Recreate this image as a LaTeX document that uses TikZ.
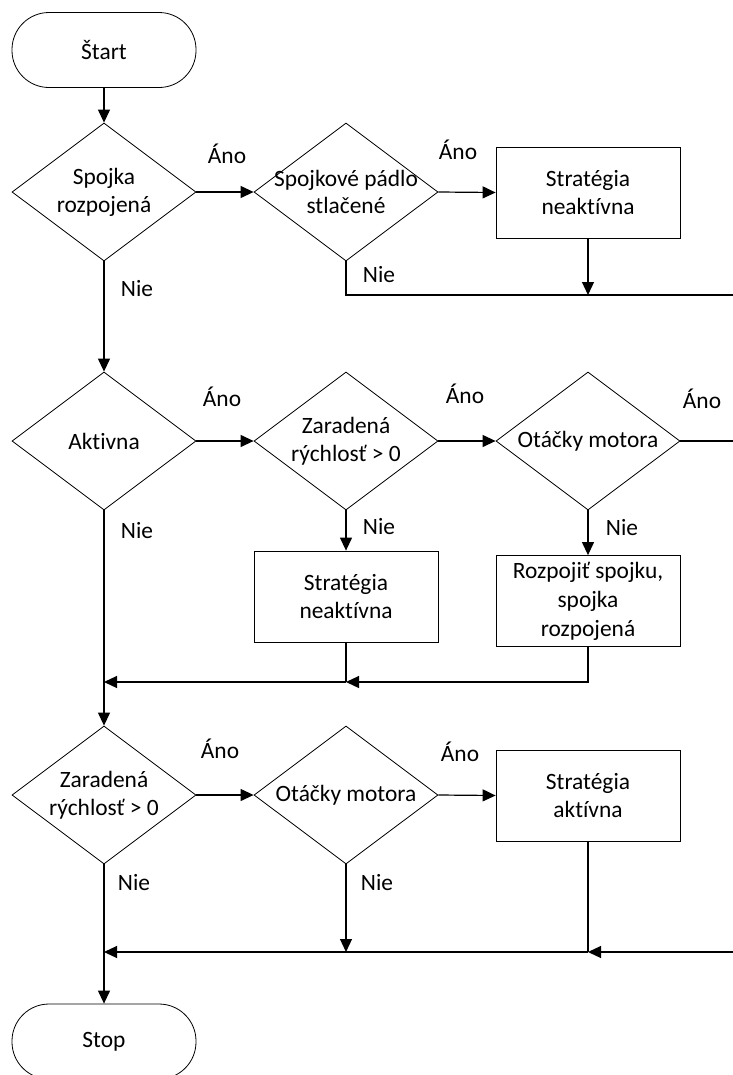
\documentclass[tikz,border=0pt]{standalone}
\usepackage{fontspec}
\setmainfont[Ligatures=NoCommon]{Carlito}
\usetikzlibrary{arrows.meta,shapes.geometric}
\tikzset{
  dec/.style={draw, shape=diamond, minimum width=184bp, minimum height=138bp, inner sep=0pt, line width=0.8bp},
  proc/.style={draw, rectangle, minimum width=184bp, minimum height=91bp, inner sep=0pt, line width=0.8bp, align=center, font=\fontsize{23.5}{29}\selectfont},
  term/.style={draw, rectangle, rounded corners=37bp, minimum width=184bp, minimum height=75bp, inner sep=0pt, line width=0.8bp, font=\fontsize{23.5}{29}\selectfont},
  txt/.style={align=center, inner sep=0pt, font=\fontsize{23.5}{28}\selectfont},
  lbl/.style={inner sep=0pt, font=\fontsize{23.5}{28}\selectfont},
  conn/.style={line width=1.2bp},
  arr/.style={conn, -{Triangle[length=13bp,width=12bp]}}
}
\begin{document}
\begin{tikzpicture}[x=1bp,y=-1bp]
\useasboundingbox (0,0) rectangle (733,1075);
\clip (0,0) rectangle (733,1075);
% row 1
\node[term] (start) at (104,50) {Štart};
\node[dec] (d1) at (104,192) {};
\node[txt] (d1t) at (d1) {Spojka\\rozpojená};
\node[dec] (d2) at (346,192) {};
\node[txt] (d2t) at (d2) {Spojkové pádlo\\stlačené};
\node[proc] (b1) at (588,192.5) {Stratégia\\neaktívna};
\coordinate (j1) at (588,295);
\coordinate (k1) at (346,295);
\coordinate (r1) at (733,295);
% row 2
\node[dec] (d4) at (104,441) {};
\node[txt] (d4t) at (d4) {Aktivna};
\node[dec] (d5) at (346,441) {};
\node[txt] (d5t) at (d5) {Zaradená\\rýchlosť > 0};
\node[dec] (d6) at (588,441) {};
\node[txt] (d6t) at (d6) {Otáčky motora};
\coordinate (r2) at (733,441);
\node[proc] (b2) at (346,596.5) {Stratégia\\neaktívna};
\node[proc] (b3) at (588,601) {Rozpojiť spojku,\\spojka\\rozpojená};
\coordinate (j2) at (588,682);
\coordinate (k2) at (346,682);
\coordinate (m2) at (104,682);
% row 3
\node[dec] (d7) at (104,795) {};
\node[txt] (d7t) at (d7) {Zaradená\\rýchlosť > 0};
\node[dec] (d8) at (346,795) {};
\node[txt] (d8t) at (d8) {Otáčky motora};
\node[proc] (b4) at (588,795.5) {Stratégia\\aktívna};
\coordinate (j3) at (588,952);
\coordinate (k3) at (346,952);
\coordinate (m3) at (104,952);
\coordinate (r3) at (733,952);
\node[term] (stop) at (104,1041.5) {Stop};
% labels
\node[lbl] (a1) at (227,154) {Áno};
\node[lbl] (a2) at (458,150) {Áno};
\node[lbl] (n1) at (137,289) {Nie};
\node[lbl] (n2) at (379,275) {Nie};
\node[lbl] (a4) at (222,397) {Áno};
\node[lbl] (a5) at (465,394) {Áno};
\node[lbl] (a6) at (702,399) {Áno};
\node[lbl] (n4) at (137,531) {Nie};
\node[lbl] (n5) at (379,527) {Nie};
\node[lbl] (n6) at (622,528) {Nie};
\node[lbl] (a7) at (220,749) {Áno};
\node[lbl] (a8) at (460,752) {Áno};
\node[lbl] (n7) at (134,883) {Nie};
\node[lbl] (n8) at (377,883) {Nie};
% connectors row 1
\draw[arr] (start.south) -- (d1.north);
\draw[arr] (d1.east) -- (d2.west);
\draw[arr] (d2.east) -- (b1.west);
\draw[arr] (b1.south) -- (j1);
\draw[conn] (d2.south) -- (k1) -- (r1);
% row 2
\draw[arr] (d1.south) -- (d4.north);
\draw[arr] (d4.east) -- (d5.west);
\draw[arr] (d5.east) -- (d6.west);
\draw[conn] (d6.east) -- (r2);
\draw[arr] (d5.south) -- (b2.north);
\draw[arr] (d6.south) -- (b3.north);
\draw[arr] (b3.south) |- (k2);
\draw[conn] (b2.south) -- (k2);
\draw[arr] (k2) -- (m2);
% row 3
\draw[arr] (d4.south) -- (d7.north);
\draw[arr] (d7.east) -- (d8.west);
\draw[arr] (d8.east) -- (b4.west);
\draw[arr] (d8.south) -- (k3);
\draw[arr] (r3) -- (j3);
\draw[conn] (b4.south) -- (j3);
\draw[arr] (j3) -- (m3);
\draw[arr] (d7.south) -- (stop.north);
\end{tikzpicture}
\end{document}
